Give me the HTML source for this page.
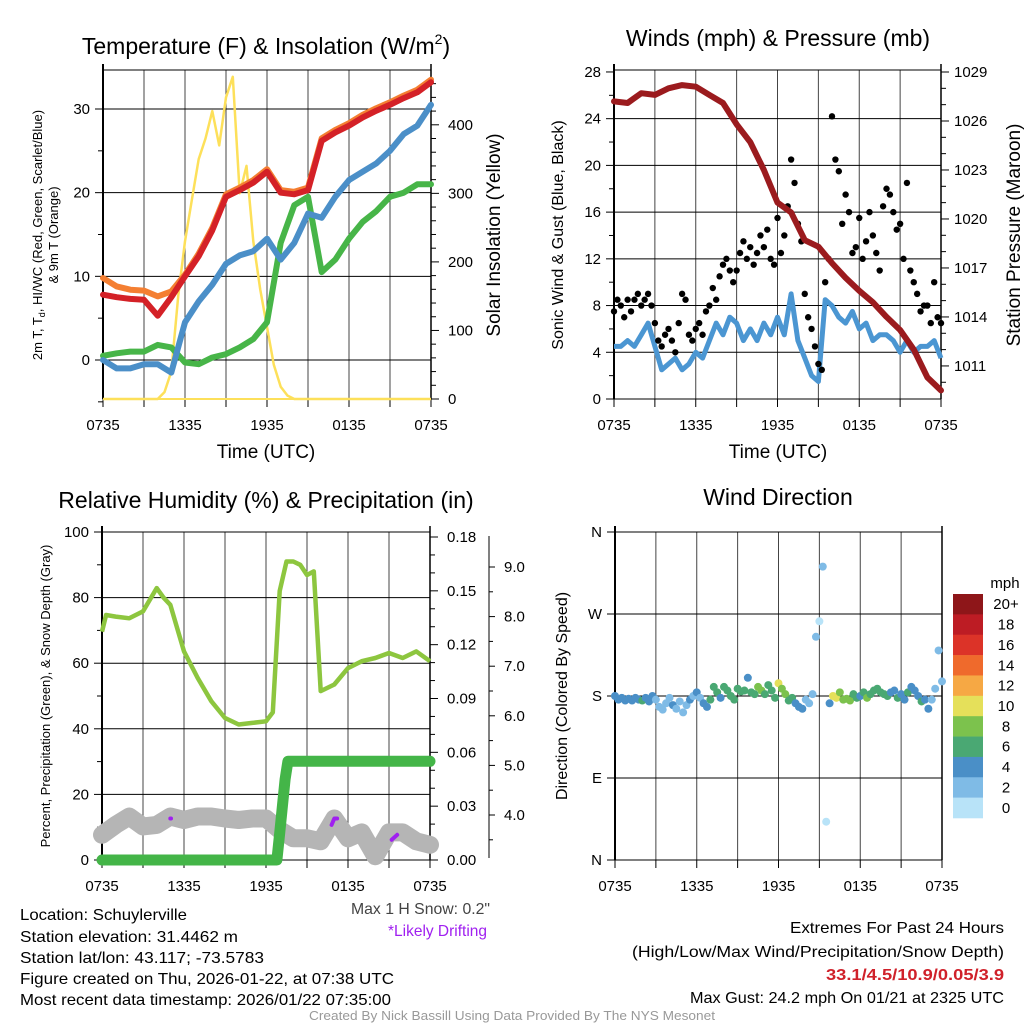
<!DOCTYPE html>
<html><head><meta charset="utf-8"><style>
html,body{margin:0;padding:0;background:#fff;}
svg{display:block;font-family:"Liberation Sans",Arial,sans-serif;}
</style></head><body>
<svg id="chart" xmlns="http://www.w3.org/2000/svg" width="1024" height="1024" viewBox="0 0 1024 1024">
<rect x="0" y="0" width="1024" height="1024" fill="#fff"/>
<g id="layer"></g>
<!-- titles -->
<text x="266" y="54" font-size="23" text-anchor="middle">Temperature (F) &amp; Insolation (W/m<tspan font-size="14" dy="-10">2</tspan><tspan dy="10">)</tspan></text>
<text x="778" y="46" font-size="23" text-anchor="middle">Winds (mph) &amp; Pressure (mb)</text>
<text x="266" y="508" font-size="23" text-anchor="middle">Relative Humidity (%) &amp; Precipitation (in)</text>
<text x="778" y="505" font-size="23" text-anchor="middle">Wind Direction</text>
<!-- axis titles -->
<text x="266" y="458" font-size="19" text-anchor="middle">Time (UTC)</text>
<text x="778" y="458" font-size="19" text-anchor="middle">Time (UTC)</text>
<text transform="translate(42,235) rotate(-90)" font-size="13" text-anchor="middle">2m T, T<tspan font-size="9" dy="3">d</tspan><tspan dy="-3">, HI/WC (Red, Green, Scarlet/Blue)</tspan></text>
<text transform="translate(58,235) rotate(-90)" font-size="13" text-anchor="middle">&amp; 9m T (Orange)</text>
<text transform="translate(500,235) rotate(-90)" font-size="19" text-anchor="middle">Solar Insolation (Yellow)</text>
<text transform="translate(563,235) rotate(-90)" font-size="16" text-anchor="middle">Sonic Wind &amp; Gust (Blue, Black)</text>
<text transform="translate(1020,235) rotate(-90)" font-size="19" text-anchor="middle">Station Pressure (Maroon)</text>
<text transform="translate(50,696) rotate(-90)" font-size="13" text-anchor="middle">Percent, Precipitation (Green), &amp; Snow Depth (Gray)</text>
<text transform="translate(567,696) rotate(-90)" font-size="16" text-anchor="middle">Direction (Colored By Speed)</text>
<!-- footer texts -->
<g font-size="16" fill="#000">
<text x="20" y="920" textLength="167" lengthAdjust="spacingAndGlyphs">Location: Schuylerville</text>
<text x="20" y="942" textLength="218" lengthAdjust="spacingAndGlyphs">Station elevation: 31.4462 m</text>
<text x="20" y="963" textLength="244" lengthAdjust="spacingAndGlyphs">Station lat/lon: 43.117; -73.5783</text>
<text x="20" y="984" textLength="374" lengthAdjust="spacingAndGlyphs">Figure created on Thu, 2026-01-22, at 07:38 UTC</text>
<text x="20" y="1005" textLength="371" lengthAdjust="spacingAndGlyphs">Most recent data timestamp: 2026/01/22 07:35:00</text>
<text x="351" y="914" fill="#444" textLength="139" lengthAdjust="spacingAndGlyphs">Max 1 H Snow: 0.2"</text>
<text x="388" y="936" fill="#a020f0" textLength="99" lengthAdjust="spacingAndGlyphs">*Likely Drifting</text>
<text x="790" y="933" textLength="214" lengthAdjust="spacingAndGlyphs">Extremes For Past 24 Hours</text>
<text x="632" y="957" textLength="372" lengthAdjust="spacingAndGlyphs">(High/Low/Max Wind/Precipitation/Snow Depth)</text>
<text x="826" y="980" fill="#d0212a" font-weight="bold" textLength="178" lengthAdjust="spacingAndGlyphs">33.1/4.5/10.9/0.05/3.9</text>
<text x="690" y="1003" textLength="314" lengthAdjust="spacingAndGlyphs">Max Gust: 24.2 mph On 01/21 at 2325 UTC</text>
</g>
<text x="309" y="1020" font-size="13" fill="#999" textLength="406" lengthAdjust="spacingAndGlyphs">Created By Nick Bassill Using Data Provided By The NYS Mesonet</text>
</svg>
<script>
// ---------- DATA ----------
const hourly = [0,1,2,3,4,5,6,7,8,9,10,11,12,13,14,15,16,17,18,19,20,21,22,23,24];
const xTickLabels = ["0735","1335","1935","0135","0735"];
const temp2m = [7.8,7.5,7.3,7.2,5.3,7.5,10,12.4,15.5,19.5,20.3,21.2,22.5,20,19.8,20.3,26.2,27.2,28,29,29.8,30.5,31.3,32,33.2];
const temp9m = [9.8,8.8,8.4,8.3,7.6,8.2,10.2,12.7,15.8,19.8,20.6,21.5,22.8,20.3,20.1,20.6,26.5,27.5,28.3,29.3,30.1,30.8,31.6,32.3,33.5];
const heatIndexWindChill = [0,-1,-1,-0.5,-0.5,-1.5,4.5,7,9,11.5,12.5,13,14.5,12,14,17.5,17,19.5,21.5,22.5,23.5,25,27,28,30.5];
const dewpoint = [0.5,0.8,1,1,1.8,1.5,-0.3,-0.5,0.3,0.7,1.5,2.5,4.5,14,18.5,19.5,10.5,12,14.5,16.5,17.8,19.5,20,21,21];
const solarHours = [0,4,4.5,5,5.5,6,6.5,7,7.5,8,8.5,9,9.5,10,10.5,11,11.5,12,12.5,13,13.5,14,24];
const solarValues = [0,0,10,40,150,230,290,350,380,420,370,440,470,300,340,230,160,105,50,18,5,0,0];
const windHalfHourly = [4.5,4.5,5,4.5,5.5,6.5,4.5,2.5,3,3.5,2.5,3,4,3.5,5,6.5,5.5,7,6.5,5,6,5,6.5,5.5,7,5.5,9,5,3.5,2,1.5,8.5,8,7,6.5,7.5,6,6.5,5,5.5,5.5,5,4,5,4,4.5,4.5,5,3.5];
const gusts = [7.5,8.5,8,7, 8.5,7.5,8.5,9, 8,8.5,9,8, 6.5,5,4.5,5.5, 6,5,4,6.5, 9,8.5,5.5,5, 6,6.5,5.5,7.5, 8,9.5,8.5,10.5, 11.5,12,11,10, 11,12.5,13.5,12, 13,11.5,12.5,14, 13,14.5,12,11.5, 15.5,12.5,14,16.5, 20.5,18.5,15,13.5, 9,7,6,4.5, 3,2.5,10,12, 24.2,20.5,19.5,15, 17.5,16,12.5,13, 15.5,12,13.5,16, 14,12.5,11,16.5, 18,17.5,16,14.5, 15,12,18.5,11, 10,9,7.5,8, 8,6.5,10,7, 6.5];
const pressure = [1027.2,1027.1,1027.7,1027.6,1028.0,1028.2,1028.1,1027.6,1027.1,1025.8,1024.7,1023,1021,1020.4,1018.7,1018.3,1017.3,1016.4,1015.6,1014.9,1014,1013.2,1012,1010.3,1009.5];
const rhHours = [0,0.3,1,2,3,4,4.5,5,6,7,8,9,10,11,12,12.5,13,13.5,14,14.5,15,15.5,16,17,18,19,20,21,22,23,24];
const rhValues = [69.6,74.7,74.2,73.7,75.8,82.9,80,77.8,63.6,55.5,48.4,43.3,41.3,41.8,42.3,45,82,91,91,90,86.9,88,51.5,53.5,58.5,60.6,61.6,63.1,61.6,63.6,60.6];
const precipHours = [0,12.8,13,13.2,13.4,13.6,24];
const precipValues = [0,0,0.015,0.03,0.045,0.055,0.055];
const snowDepth = [3.6,3.8,3.97,3.77,3.8,3.97,3.9,3.97,3.97,3.93,3.9,3.93,3.93,3.7,3.53,3.53,3.47,3.93,3.53,3.65,3.17,3.65,3.65,3.47,3.4];
const driftHours = [[5,5.05],[16.8,17.0,17.2],[21.2,21.4,21.6]];
const driftDepth = [[3.93,3.93],[3.8,3.93,3.93],[3.5,3.55,3.6]];
const directions = [180,176,178,175, 177,175,178,176, 175,178,174,180, 176,168,165,172, 178,170,166,174, 162,170,176,180, 184,178,172,168, 176,190,184,178, 190,186,180,176, 188,185,186,200, 184,182,190,186, 182,192,186,178, 194,188,182,175, 178,172,168,166, 176,172,182,245, 262,322,42,172, 180,178,184,176, 177,175,182,178, 180,184,178,182, 186,188,184,182, 180,184,186,178, 182,176,184,190, 186,180,174,176, 166,176,188,230, 196];
const dirSpeeds = [4.5,5,4.5,5, 4.8,4.5,5,5.5, 6.5,5,4.5,5, 3.5,2.5,3,3.2, 3,4,3.5,2.5, 3,3.5,4.5,3.5, 5,3.5,4,5.5, 6.5,7,6,5, 6.5,7,6.5,7, 6,7.5,6.5,5, 7,6.5,8,8.5, 7,6.5,7.5,7, 10.5,9,8,6.5, 7,5,4.5,4, 2.5,3,2,2.5, 1.5,2,1.5,4.5, 10,10.5,9,8.5, 8,9,7.5,6, 5,6.5,8.5,7, 6.5,7,6,7, 6.5,5,4.5,6, 5,4.5,6.5,4.5, 4,5,6.5,4.5, 4.5,2.5,3,2.5, 3];
const speedBinLabels = ["20+","18","16","14","12","10","8","6","4","2","0"];
const speedBinColors = ["#8e1619","#bd1c24","#dc3328","#ef6a2c","#f6a844","#e5e05a","#7cc24d","#4aa873","#4a8fc7","#7fbbe6","#b8e3f8"];

// ---------- HELPERS ----------
const NS="http://www.w3.org/2000/svg";
const layer=document.getElementById('layer');
function mk(tag,attrs,parent){const e=document.createElementNS(NS,tag);for(const k in attrs)e.setAttribute(k,attrs[k]);(parent||layer).appendChild(e);return e;}
function group(name){const g=mk('g',{});


return g;}
function pts(xs,ys,fx,fy){return xs.map((x,i)=>fx(x).toFixed(1)+','+fy(ys[i]).toFixed(1)).join(' ');}
function xScale(x0,x1){return h=>x0+(h/24)*(x1-x0);}

function frame(name,x0,x1,y0,y1){
  const g=group(name+'-grid');
  const xs=xScale(x0,x1);
  for(let h=3;h<24;h+=3){mk('line',{x1:xs(h),x2:xs(h),y1:y0,y2:y1,stroke:'#444','stroke-width':1},g);}
  for(let h=0;h<=24;h+=3){mk('line',{x1:xs(h),x2:xs(h),y1:y1,y2:y1+8,stroke:'#000','stroke-width':1},g);}
  for(let i=0;i<xTickLabels.length;i++){const t=mk('text',{x:xs(i*6),y:y1+31,'font-size':15,'text-anchor':'middle'},g);t.textContent=xTickLabels[i];
  
  }
  return g;
}
function hgrid(g,ys,x0,x1){ys.forEach(y=>mk('line',{x1:x0,x2:x1,y1:y,y2:y,stroke:'#000','stroke-width':1},g));}
function leftAxis(g,x,vals,fy,minors,labels,fs){
  vals.forEach((v,i)=>{mk('line',{x1:x-8,x2:x,y1:fy(v),y2:fy(v),stroke:'#000'},g);
   const t=mk('text',{x:x-13,y:fy(v)+5,'font-size':fs||15,'text-anchor':'end'},g);t.textContent=labels[i];
   
   });
  minors.forEach(v=>mk('line',{x1:x-5,x2:x,y1:fy(v),y2:fy(v),stroke:'#000'},g));
}
function rightAxis(g,x,vals,fy,minors,labels,lx,anchor){
  vals.forEach((v,i)=>{mk('line',{x1:x,x2:x+8,y1:fy(v),y2:fy(v),stroke:'#000'},g);
   const t=mk('text',{x:lx,y:fy(v)+5,'font-size':15,'text-anchor':anchor||'start'},g);t.textContent=labels[i];
   
   });
  minors.forEach(v=>mk('line',{x1:x,x2:x+5,y1:fy(v),y2:fy(v),stroke:'#000'},g));
}
function border(g,x0,x1,y0,y1){mk('line',{x1:x0,x2:x0,y1:y0-6,y2:y1,stroke:'#000','stroke-width':2},g);mk('line',{x1:x1,x2:x1,y1:y0-6,y2:y1,stroke:'#000','stroke-width':1.5},g);mk('line',{x1:x0,x2:x1,y1:y0,y2:y0,stroke:'#000','stroke-width':1},g);mk('line',{x1:x0,x2:x1,y1:y1,y2:y1,stroke:'#000','stroke-width':1},g);}
function range(a,b,s){const r=[];for(let v=a;v<=b+1e-9;v+=s)r.push(+v.toFixed(4));return r;}

// ---------- PANEL 1 ----------
(function(){
 const x0=103,x1=431,y0=70,y1=399;
 const fx=xScale(x0,x1), fT=t=>360-t*8.367, fS=s=>399-s*0.6855;
 const g=frame('temp',x0,x1,y0,y1);
 hgrid(g,[0,10,20,30].map(fT),x0,x1);
 leftAxis(g,x0,[0,10,20,30],fT,[-5,5,15,25],["0","10","20","30"]);
 rightAxis(g,x1,[0,100,200,300,400],fS,range(20,460,20).filter(v=>v%100),["0","100","200","300","400"],x1+17);
 const s=group('temp-series');
 const y=mk('polyline',{points:pts(solarHours,solarValues,fx,fS),fill:'none',stroke:'#fde05a','stroke-width':2.5,'stroke-linejoin':'round'},s);
 
 
 const d=mk('polyline',{points:pts(hourly,dewpoint,fx,fT),fill:'none',stroke:'#47b548','stroke-width':6,'stroke-linejoin':'round','stroke-linecap':'round'},s);
 
 
 const b=mk('polyline',{points:pts(hourly,heatIndexWindChill,fx,fT),fill:'none',stroke:'#4b8fc8','stroke-width':6,'stroke-linejoin':'round','stroke-linecap':'round'},s);
 
 
 const o=mk('polyline',{points:pts(hourly,temp9m,fx,fT),fill:'none',stroke:'#f47f32','stroke-width':6,'stroke-linejoin':'round','stroke-linecap':'round'},s);
 
 
 const r=mk('polyline',{points:pts(hourly,temp2m,fx,fT),fill:'none',stroke:'#d42127','stroke-width':6,'stroke-linejoin':'round','stroke-linecap':'round'},s);
 
 
 border(g,x0,x1,y0,y1);
 mk('line',{x1:x0,x2:x1,y1:y1,y2:y1,stroke:'#fde05a','stroke-width':2},s);
})();

// ---------- PANEL 2 ----------
(function(){
 const x0=614,x1=941,y0=70,y1=399;
 const fx=xScale(x0,x1), fW=w=>399-w*11.68, fP=p=>72+(1029-p)*16.33;
 const g=frame('wind',x0,x1,y0,y1);
 hgrid(g,[4,8,12,16,20,24].map(fW),x0,x1);
 leftAxis(g,x0,[0,4,8,12,16,20,24,28],fW,[2,6,10,14,18,22,26],["0","4","8","12","16","20","24","28"]);
 rightAxis(g,x1,[1011,1014,1017,1020,1023,1026,1029],fP,range(1010,1029,1).filter(v=>(v-1011)%3),["1011","1014","1017","1020","1023","1026","1029"],x1+13);
 const s=group('wind-series');
 const hh=windHalfHourly.map((_,i)=>i/2);
 const w=mk('polyline',{points:pts(hh,windHalfHourly,fx,fW),fill:'none',stroke:'#4b96d2','stroke-width':5,'stroke-linejoin':'round'},s);
 
 
 gusts.forEach((v,i)=>{const c=mk('circle',{cx:fx(i/4),cy:fW(v),r:3.2,fill:'#000'},s);
  
  });
 const p=mk('polyline',{points:pts(hourly,pressure,fx,fP),fill:'none',stroke:'#9b1b1e','stroke-width':6,'stroke-linejoin':'round','stroke-linecap':'round'},s);
 
 
 border(g,x0,x1,y0,y1);
})();

// ---------- PANEL 3 ----------
(function(){
 const x0=102,x1=430,y0=532,y1=860;
 const fx=xScale(x0,x1), fR=r=>860-r*3.28, fPr=p=>860-p/0.18*323, fSn=s=>815-(s-4)*49.6;
 const g=frame('rh',x0,x1,y0,y1);
 hgrid(g,[20,40,60,80].map(fR),x0,x1);
 leftAxis(g,x0,[0,20,40,60,80,100],fR,[10,30,50,70,90],["0","20","40","60","80","100"]);
 rightAxis(g,x1,[0,0.03,0.06,0.09,0.12,0.15,0.18],fPr,range(0.01,0.17,0.01).filter(v=>Math.round(v*100)%3),["0.00","0.03","0.06","0.09","0.12","0.15","0.18"],x1+17);
 const sa=group('snow-axis');
 mk('line',{x1:489,x2:489,y1:536,y2:858,stroke:'#000'},sa);
 [4,5,6,7,8,9].forEach(v=>{mk('line',{x1:489,x2:495,y1:fSn(v),y2:fSn(v),stroke:'#000'},sa);const t=mk('text',{x:504,y:fSn(v)+5,'font-size':15,'text-anchor':'start'},sa);t.textContent=v.toFixed(1);
  
  });
 [3.5,4.5,5.5,6.5,7.5,8.5].forEach(v=>mk('line',{x1:489,x2:493,y1:fSn(v),y2:fSn(v),stroke:'#000'},sa));
 const s=group('rh-series');
 const sn=mk('polyline',{points:pts(hourly,snowDepth,fx,fSn),fill:'none',stroke:'#b5b5b5','stroke-width':18,'stroke-linejoin':'round','stroke-linecap':'round'},s);
 
 
 driftHours.forEach((hs,i)=>{const dl=mk('polyline',{points:pts(hs,driftDepth[i],fx,fSn),fill:'none',stroke:'#a020f0','stroke-width':4,'stroke-linecap':'round','stroke-linejoin':'round'},s);
  
  });
 const rh=mk('polyline',{points:pts(rhHours,rhValues,fx,fR),fill:'none',stroke:'#8dc63f','stroke-width':4.5,'stroke-linejoin':'round'},s);
 
 
 const pr=mk('polyline',{points:pts(precipHours,precipValues,fx,fPr),fill:'none',stroke:'#44b548','stroke-width':11,'stroke-linejoin':'round','stroke-linecap':'round'},s);
 
 
 border(g,x0,x1,y0,y1);
})();

// ---------- PANEL 4 ----------
(function(){
 const x0=615,x1=942,y0=532,y1=860;
 const fx=xScale(x0,x1), fD=d=>860-d*0.9111;
 const g=frame('dir',x0,x1,y0,y1);
 hgrid(g,[90,180,270].map(fD),x0,x1);
 leftAxis(g,x0,[0,90,180,270,360],fD,[],["N","E","S","W","N"]);
 const s=group('direction-series');
 function colorFor(v){let idx=Math.min(10,Math.floor(v/2));return speedBinColors[10-idx];}
 directions.forEach((d,i)=>{const c=mk('circle',{cx:fx(i/4),cy:fD(d),r:4,fill:colorFor(dirSpeeds[i])},s);
  
  });
 border(g,x0,x1,y0,y1);
 const cb=group('speed-colorbar');
 const t0=mk('text',{x:1005,y:588,'font-size':15,'text-anchor':'middle'},cb);t0.textContent='mph';
 
 
 const bh=224/speedBinColors.length;
 speedBinColors.forEach((c,i)=>{const r=mk('rect',{x:953,y:594+i*bh,width:30,height:bh+0.3,fill:c},cb);
  
  
  const t=mk('text',{x:1006,y:594+i*bh+bh/2+5,'font-size':15,'text-anchor':'middle'},cb);t.textContent=speedBinLabels[i];
  
  });
})();
</script>
</body></html>
